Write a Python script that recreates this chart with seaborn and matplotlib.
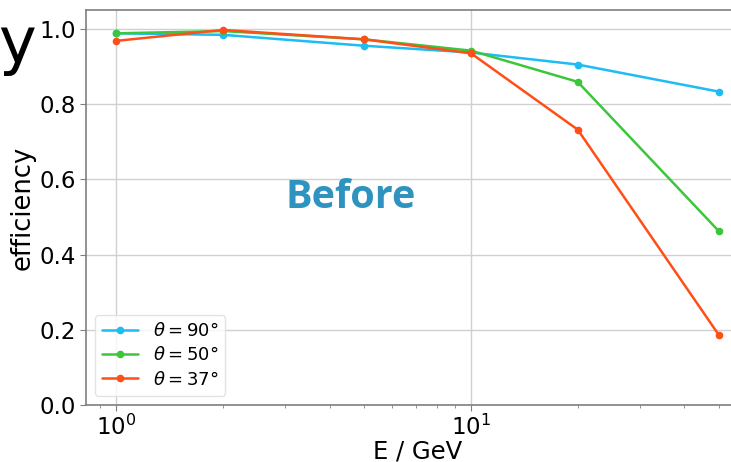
import matplotlib
matplotlib.use("Agg")
import matplotlib.pyplot as plt
import seaborn as sns
import pandas as pd

energy = [1, 2, 5, 10, 20, 50]
eff_90 = [0.988, 0.984, 0.955, 0.937, 0.905, 0.833]
eff_50 = [0.988, 0.994, 0.972, 0.942, 0.859, 0.462]
eff_37 = [0.968, 0.997, 0.972, 0.935, 0.732, 0.186]
labels = [r"$\theta = 90°$", r"$\theta = 50°$", r"$\theta = 37°$"]
colors = ["#1cbcf4", "#3cc63c", "#ff4f18"]

df = pd.DataFrame({
    "E": energy * 3,
    "eff": eff_90 + eff_50 + eff_37,
    "series": [labels[0]] * 6 + [labels[1]] * 6 + [labels[2]] * 6,
})

sns.set_style("whitegrid")
plt.rcParams["font.family"] = ["DejaVu Sans"]
plt.rcParams["text.color"] = "black"
plt.rcParams["axes.labelcolor"] = "black"
plt.rcParams["xtick.labelcolor"] = "black"
plt.rcParams["ytick.labelcolor"] = "black"

fig = plt.figure(figsize=(7.31, 4.62), dpi=100)
W, H = 731, 462
ax = fig.add_axes([86 / W, (H - 405) / H, (749 - 86) / W, (405 - 10) / H])

sns.lineplot(data=df, x="E", y="eff", hue="series", hue_order=labels,
             palette=colors, marker="o", markersize=5.5, markeredgewidth=0,
             linewidth=1.8, ax=ax, legend=True)

ax.set_xscale("log")
ax.set_xlim(0.822, 60.8)
ax.set_ylim(0, 1.05)
ax.set_yticks([0.0, 0.2, 0.4, 0.6, 0.8, 1.0])
ax.grid(True, which="major", color="#d0d0d0", linewidth=1)
ax.grid(False, which="minor")
for s in ax.spines.values():
    s.set_color("#7f7f7f")
    s.set_linewidth(1.2)
ax.tick_params(axis="both", which="major", labelsize=16.5, length=4, color="#7f7f7f",
               bottom=True, left=True, pad=3)
ax.tick_params(axis="x", which="minor", length=2.5, color="#7f7f7f", bottom=True)
ax.set_xlabel("E / GeV", fontsize=17.5, labelpad=0)
ax.set_ylabel("efficiency", fontsize=18.5, labelpad=3)

leg = ax.legend(loc="lower left", fontsize=13, frameon=True, borderaxespad=0.5,
                handlelength=2.0, labelspacing=0.35)
leg.get_frame().set_edgecolor("#dddddd")

ax.text(351 / W, (H - 198) / H, "Before", transform=fig.transFigure,
        fontsize=28.5, fontweight="bold", color="#2e93bf", family="Open Sans",
        ha="center", va="center")
fig.text(-2 / W, (H - 45) / H, "y", fontsize=46, color="black", ha="left", va="center")

fig.savefig("out.png", dpi=100)
